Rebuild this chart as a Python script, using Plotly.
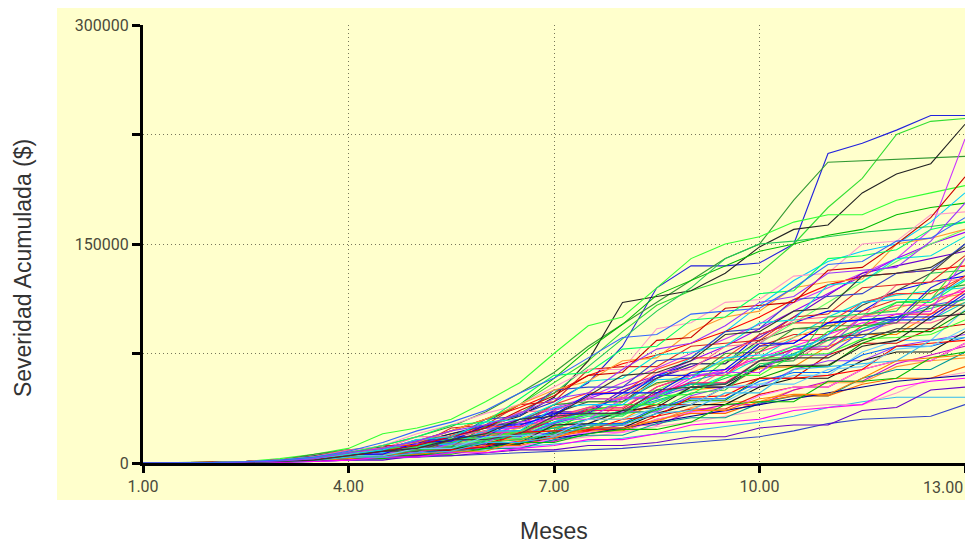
import plotly.graph_objects as go

# Months on the horizontal axis (half-month resolution)
meses = [1, 1.5, 2, 2.5, 3, 3.5, 4, 4.5, 5, 5.5, 6, 6.5, 7,
         7.5, 8, 8.5, 9, 9.5, 10, 10.5, 11, 11.5, 12, 12.5, 13]

# Accumulated severity per simulation run, in thousands of dollars
corridas = [
    [0, 0, 0.3, 1, 2, 5, 8, 10, 14, 20, 26, 33, 42, 55, 80, 120, 135, 135, 137, 150, 212, 219, 228, 238, 238],
    [0, 0, 0.5, 1, 2, 4, 6, 9, 15, 22, 30, 40, 55, 70, 90, 108, 118, 125, 130, 150, 175, 195, 225, 234, 236],
    [0, 0.2, 0.5, 1, 2, 3, 7, 12, 18, 25, 35, 48, 62, 80, 95, 110, 125, 140, 150, 180, 206, 207, 208, 209, 210],
    [0, 0, 0.4, 1, 2, 4, 6, 10, 14, 20, 25, 32, 45, 70, 110, 114, 118, 130, 148, 160, 163, 185, 198, 205, 232],
    [0, 0, 0.3, 1, 3, 6, 10, 20, 24, 30, 42, 55, 75, 94, 100, 120, 140, 150, 155, 165, 170, 170, 180, 185, 190],
    [0, 0, 0.2, 0.5, 1, 3, 5, 8, 12, 18, 28, 40, 58, 78, 95, 115, 125, 135, 145, 150, 156, 160, 170, 175, 178],
    [0, 0, 0.3, 1, 2, 4, 7, 10, 14, 18, 24, 30, 38, 45, 55, 65, 75, 85, 95, 110, 120, 130, 140, 160, 222],
    [0, 0, 0.2, 0.6, 1.5, 3, 5, 7, 10, 14, 18, 22, 28, 36, 46, 58, 72, 90, 108, 125, 138, 145, 150, 165, 185],
    [0, 0, 0.5, 1, 2, 4, 8, 10, 15, 22, 30, 38, 48, 60, 68, 74, 82, 90, 100, 112, 122, 128, 130, 132, 135],
    [0, 0, 0.2, 0.5, 1, 2, 4, 6, 6, 12, 16, 16, 25, 30, 30, 42, 50, 52, 65, 66, 80, 88, 88, 102, 110],
    [0, 0, 0.2, 0.6, 1.5, 3, 6, 9, 9, 18, 24, 24, 36, 44, 44, 60, 68, 68, 88, 96, 104, 104, 118, 124, 128],
    [0, 0, 0.1, 0.3, 1, 2, 4, 4, 8, 11, 11, 20, 26, 26, 42, 50, 50, 64, 70, 70, 84, 90, 96, 96, 104],
    [0, 0, 0.2, 0.5, 1, 3, 5, 8, 12, 12, 22, 28, 35, 35, 50, 58, 66, 76, 86, 100, 115, 130, 135, 140, 145],
    [0, 0, 0.3, 1, 2, 5, 9, 11, 14, 18, 22, 22, 34, 42, 42, 58, 68, 68, 84, 92, 92, 108, 118, 130, 150],
    [0, 0, 0.2, 0.5, 1, 2, 4, 7, 11, 16, 24, 34, 48, 66, 85, 104, 120, 140, 150, 152, 155, 158, 160, 162, 165],
    [0, 0, 0.2, 0.8, 2, 4, 7, 9, 9, 15, 19, 19, 30, 37, 37, 52, 60, 60, 80, 88, 88, 104, 112, 112, 128],
    [0, 0, 0.3, 1, 2, 4, 6, 8, 11, 15, 20, 25, 31, 38, 45, 45, 58, 64, 72, 80, 88, 96, 96, 112, 118],
    [0, 0, 0.1, 0.3, 0.8, 1.5, 3, 5, 5, 10, 13, 13, 21, 26, 26, 36, 42, 42, 54, 60, 60, 76, 84, 84, 105],
    [0, 0, 0.1, 0.2, 0.5, 1, 2, 3, 4, 5, 6, 7, 8, 9, 10, 12, 14, 16, 18, 22, 27, 30, 31, 32, 40],
    [0, 0, 0.1, 0.3, 0.6, 1, 2, 3, 5, 7, 9, 11, 13, 15, 17, 20, 22, 25, 28, 32, 38, 42, 45, 45, 45],
    [0, 0, 0.1, 0.2, 0.5, 1, 2, 4, 6, 8, 10, 12, 15, 18, 21, 25, 28, 32, 36, 38, 40, 40, 48, 58, 62],
    [0, 0, 0.2, 0.5, 1, 2, 3, 5, 8, 8, 14, 17, 17, 24, 28, 28, 38, 42, 42, 50, 55, 55, 66, 70, 72],
    [0, 0.1, 0.4, 1, 2, 4, 6, 8, 10, 13, 13, 20, 24, 24, 34, 40, 40, 52, 58, 58, 74, 82, 82, 92, 95],
    [0, 0, 0.2, 0.6, 1.5, 3, 5, 7, 7, 13, 17, 17, 26, 32, 32, 46, 54, 54, 70, 80, 80, 100, 110, 110, 125],
    [0, 0, 0.1, 0.4, 1, 2, 4, 6, 9, 12, 16, 20, 24, 30, 36, 42, 50, 60, 72, 86, 100, 110, 115, 118, 120],
    [0, 0, 0.2, 0.6, 1.5, 3, 5, 8, 8, 16, 20, 20, 30, 36, 36, 48, 54, 54, 66, 72, 72, 84, 92, 92, 108],
    [0, 0, 0.2, 0.5, 1, 2, 4, 6, 9, 9, 16, 20, 20, 30, 35, 35, 46, 52, 52, 64, 70, 70, 80, 84, 88],
    [0, 0, 0.3, 0.8, 2, 4, 6, 9, 13, 13, 22, 27, 27, 38, 44, 44, 56, 62, 62, 78, 86, 86, 100, 108, 112],
    [0, 0, 0.2, 0.6, 1.2, 2.5, 4, 6, 6, 10, 13, 13, 19, 23, 23, 32, 37, 37, 47, 52, 52, 64, 70, 70, 82],
    [0, 0, 0.2, 0.5, 1, 2, 3, 5, 7, 7, 12, 15, 15, 22, 26, 26, 35, 40, 40, 50, 56, 56, 68, 74, 80],
    [0, 0, 0.1, 0.3, 0.8, 1.5, 3, 5, 5, 10, 13, 13, 21, 26, 26, 37, 43, 43, 58, 66, 66, 82, 90, 90, 104],
    [0, 0, 0.2, 0.5, 1, 2, 4, 6, 9, 13, 18, 24, 30, 38, 46, 54, 62, 70, 78, 86, 94, 100, 106, 112, 116],
    [0, 0, 0.1, 0.3, 0.7, 1.5, 3, 4, 4, 8, 10, 10, 16, 19, 19, 27, 31, 31, 41, 46, 46, 58, 64, 64, 76],
    [0, 0, 0.2, 0.5, 1.2, 2.5, 5, 8, 8, 16, 21, 21, 32, 38, 38, 52, 60, 60, 76, 84, 84, 100, 108, 108, 120],
    [0, 0, 0.2, 0.6, 1.5, 3, 6, 9, 13, 18, 24, 30, 37, 44, 52, 60, 70, 80, 92, 104, 116, 128, 140, 150, 158],
    [0, 0, 0.3, 0.9, 2, 4, 7, 10, 10, 19, 25, 25, 40, 48, 48, 64, 72, 72, 88, 96, 96, 110, 116, 116, 128],
    [0, 0, 0.1, 0.4, 1, 2, 4, 6, 6, 11, 14, 14, 22, 27, 27, 38, 44, 44, 56, 62, 62, 74, 80, 80, 86],
    [0, 0, 0.2, 0.5, 1, 2, 4, 6, 9, 12, 16, 21, 27, 34, 42, 50, 60, 70, 82, 96, 110, 124, 138, 150, 160],
    [0, 0, 0.2, 0.5, 1, 2, 3, 5, 5, 10, 13, 13, 20, 24, 24, 34, 40, 40, 52, 58, 58, 70, 76, 76, 90],
    [0, 0, 0.2, 0.5, 1.2, 2.5, 5, 7, 7, 14, 18, 18, 28, 34, 34, 47, 54, 54, 70, 78, 78, 92, 98, 98, 110],
    [0, 0, 0.1, 0.3, 0.8, 1.6, 3, 5, 5, 9, 12, 12, 18, 22, 22, 30, 34, 34, 42, 46, 46, 54, 58, 58, 66],
    [0, 0, 0.2, 0.5, 1, 2, 4, 7, 7, 14, 18, 18, 27, 33, 33, 45, 52, 52, 66, 74, 74, 90, 98, 98, 114],
    [0, 0, 0.3, 0.8, 1.6, 3, 6, 9, 9, 16, 20, 20, 30, 36, 36, 48, 55, 55, 70, 78, 78, 94, 102, 102, 118],
    [0, 0, 0.2, 0.4, 1, 2, 3, 5, 8, 11, 15, 19, 24, 30, 36, 43, 50, 58, 66, 75, 84, 92, 100, 106, 112],
    [0, 0, 0.1, 0.3, 0.8, 1.5, 3, 5, 5, 9, 11, 11, 17, 21, 21, 30, 35, 35, 46, 52, 52, 64, 70, 70, 82],
    [0, 0, 0.2, 0.5, 1, 2, 3, 5, 7, 9, 11, 14, 17, 20, 24, 28, 32, 36, 40, 44, 48, 52, 56, 58, 60],
    [0, 0, 0.2, 0.5, 1.5, 3, 8, 8, 10, 18, 18, 30, 34, 34, 48, 60, 60, 62, 80, 82, 96, 98, 98, 120, 132],
    [0, 0, 0.1, 0.4, 1, 2, 5, 5, 12, 14, 20, 20, 22, 36, 40, 40, 52, 70, 72, 72, 90, 94, 110, 112, 140],
    [0, 0, 0.3, 1, 2, 6, 9, 9, 11, 11, 25, 28, 40, 42, 42, 55, 58, 75, 76, 92, 94, 94, 96, 118, 122],
    [0, 0, 0.2, 0.4, 0.9, 1.8, 4, 5, 5, 9, 14, 14, 26, 27, 36, 38, 52, 52, 66, 67, 67, 80, 84, 100, 102],
    [0, 0, 0.2, 0.6, 1.4, 2.8, 5, 10, 11, 17, 17, 22, 30, 33, 33, 46, 47, 60, 60, 74, 75, 85, 86, 88, 98],
    [0, 0, 0.1, 0.3, 0.7, 1.4, 3, 3, 6, 6, 10, 14, 14, 20, 23, 23, 28, 40, 42, 42, 56, 56, 58, 72, 76],
    [0, 0, 0.2, 0.5, 1, 2, 6, 7, 7, 13, 13, 28, 30, 30, 44, 46, 60, 62, 62, 78, 80, 100, 102, 104, 140],
    [0, 0, 0.3, 0.7, 1.6, 3.2, 7, 7, 12, 13, 22, 22, 38, 40, 40, 57, 58, 72, 74, 74, 88, 110, 112, 112, 126],
    [0, 0, 0.2, 0.5, 1.2, 2.4, 4, 4, 9, 9, 11, 21, 22, 22, 30, 32, 45, 46, 58, 58, 60, 64, 80, 82, 84],
    [0, 0, 0.1, 0.3, 0.8, 1.6, 3, 6, 6, 8, 8, 15, 17, 24, 24, 29, 36, 36, 44, 47, 47, 58, 70, 72, 74],
    [0, 0, 0.2, 0.6, 1.5, 3, 6, 6, 14, 15, 26, 26, 33, 47, 48, 48, 62, 64, 82, 82, 96, 98, 100, 100, 116],
    [0, 0, 0.3, 0.9, 2.2, 4.4, 9, 10, 18, 18, 22, 35, 36, 44, 44, 62, 64, 80, 82, 98, 100, 100, 122, 124, 126],
    [0, 0, 0.1, 0.3, 0.6, 1.2, 2, 2, 5, 5, 7, 9, 9, 12, 12, 14, 18, 18, 24, 26, 26, 36, 38, 50, 52],
    [0, 0, 0.2, 0.5, 1.1, 2.2, 5, 8, 8, 16, 16, 20, 32, 34, 34, 50, 52, 54, 70, 72, 86, 88, 90, 108, 108],
    [0, 0, 0.2, 0.5, 1, 2, 4, 5, 9, 10, 14, 16, 20, 24, 34, 36, 48, 50, 68, 70, 100, 102, 104, 130, 132],
    [0, 0, 0.3, 0.8, 1.8, 3.6, 7, 12, 12, 24, 26, 40, 42, 64, 66, 66, 80, 82, 84, 100, 102, 120, 122, 124, 142],
    [0, 0, 0.1, 0.2, 0.5, 1, 2, 4, 4, 7, 7, 10, 12, 16, 16, 20, 26, 28, 30, 36, 38, 40, 52, 56, 58],
    [0, 0, 0.2, 0.5, 1.2, 2.4, 5, 5, 10, 10, 18, 19, 19, 30, 30, 38, 40, 52, 54, 54, 64, 66, 78, 80, 92],
    [0, 0, 0.2, 0.7, 1.6, 3.2, 6, 9, 16, 16, 30, 32, 50, 52, 52, 70, 72, 90, 92, 112, 114, 116, 130, 132, 150],
    [0, 0, 0.1, 0.4, 1, 2, 4, 4, 7, 8, 14, 14, 18, 26, 26, 34, 36, 48, 48, 64, 66, 68, 70, 84, 86],
    [0, 0, 0.3, 1, 2, 4, 8, 12, 20, 26, 34, 40, 52, 64, 64, 92, 96, 110, 112, 128, 130, 150, 152, 170, 172],
    [0, 0, 0.2, 0.6, 1.5, 3, 6, 10, 14, 22, 30, 40, 50, 56, 70, 72, 90, 100, 104, 120, 124, 126, 150, 154, 160],
    [0, 0, 0.2, 0.5, 1.2, 2.5, 5, 8, 12, 18, 24, 36, 46, 60, 62, 84, 86, 106, 108, 110, 132, 134, 150, 168, 196],
    [0, 0, 0.3, 0.8, 2, 4, 7, 12, 18, 26, 28, 44, 60, 62, 78, 80, 98, 100, 116, 118, 140, 142, 146, 160, 165],
    [0, 0, 0.2, 0.5, 1.2, 3, 6, 9, 16, 18, 28, 30, 40, 56, 58, 74, 76, 80, 96, 98, 122, 124, 140, 142, 155],
    [0, 0, 0.1, 0.4, 1, 2, 5, 8, 10, 16, 20, 30, 32, 46, 60, 62, 70, 88, 90, 104, 106, 128, 130, 134, 148],
    [0, 0, 0.2, 0.6, 1.4, 3, 7, 10, 15, 22, 26, 34, 44, 48, 64, 78, 82, 94, 110, 114, 130, 132, 134, 152, 178],
    [0, 0, 0.3, 0.9, 2, 4, 8, 14, 22, 28, 36, 48, 58, 72, 86, 88, 102, 104, 106, 120, 136, 138, 152, 154, 168],
]

# Line colours, applied to the runs in turn
paleta = [
    "#2222DD", "#33DD33", "#339933", "#222222", "#33FF33", "#00BB00",
    "#CC33FF", "#00CCFF", "#FF0000", "#FF8000", "#0000FF", "#FF6699",
    "#6600CC", "#444444", "#22CC55", "#DD2222", "#FF00FF", "#66CCFF",
    "#3344CC", "#33BBEE", "#FF99CC", "#FF9933", "#CC0000", "#00FF66",
    "#00E0E0", "#333333", "#9933FF", "#3366FF", "#EE1111", "#CC00CC",
    "#009900", "#FFA040", "#009999", "#FF3399", "#9900FF", "#FF3333",
    "#0066FF", "#66FF66", "#111111", "#00CCCC", "#FF6600", "#6633FF",
    "#FF0066", "#00CC66", "#FF66FF", "#000099",
]

y_ticks = [0, 75000, 150000, 225000, 300000]
y_tick_text = ["0", "", "150000", "", "300000"]
x_ticks = [1, 4, 7, 10, 13]

fig = go.Figure()
for i, serie in enumerate(corridas):
    fig.add_trace(go.Scatter(
        x=meses, y=[v * 1000 for v in serie], mode="lines",
        line=dict(color=paleta[i % len(paleta)], width=1.1),
        showlegend=False, hoverinfo="skip",
    ))

fuente = "Roboto, Liberation Sans, Arial, sans-serif"
font_ticks = dict(family=fuente, size=16, color="#4A4A3A")
font_titulos = dict(family="Liberation Sans, Arial, sans-serif", size=23, color="#333333")
rejilla = dict(showgrid=True, gridcolor="#77775A", griddash="1px,3px", gridwidth=1)

fig.update_layout(
    width=965, height=544,
    margin=dict(l=143, r=0, t=25, b=81),
    paper_bgcolor="white",
    plot_bgcolor="#FFFFCC",
    shapes=[dict(type="rect", xref="paper", yref="paper", layer="below",
                 x0=-0.1046, x1=1.0, y0=-0.0845, y1=1.039,
                 fillcolor="#FFFFCC", line=dict(width=0))],
    xaxis=dict(
        range=[1, 13], tickvals=x_ticks, tickformat=".2f",
        showline=True, linecolor="black", linewidth=3,
        ticks="outside", ticklen=7, tickwidth=3, tickcolor="black",
        zeroline=False, tickfont=font_ticks, **rejilla,
    ),
    yaxis=dict(
        range=[0, 300000], tickvals=y_ticks, ticktext=y_tick_text,
        showline=True, linecolor="black", linewidth=3,
        ticks="outside", ticklen=8, tickwidth=3, tickcolor="black",
        zeroline=False, tickfont=font_ticks, **rejilla,
    ),
    annotations=[
        # last month label, right-aligned against the page edge
        dict(text=f"{x_ticks[-1]:.2f}", xref="paper", yref="paper", x=1.0, y=-0.0548,
             showarrow=False, xanchor="right", yanchor="middle", font=font_ticks),
        dict(text="Meses", xref="paper", yref="paper", x=0.4994, y=-0.155,
             showarrow=False, xanchor="center", yanchor="middle", font=font_titulos),
        dict(text="Severidad Acumulada ($)", xref="paper", yref="paper",
             x=-0.146, y=0.445, textangle=-90, showarrow=False,
             xanchor="center", yanchor="middle", font=font_titulos),
    ],
)

fig.write_html("out.html")
